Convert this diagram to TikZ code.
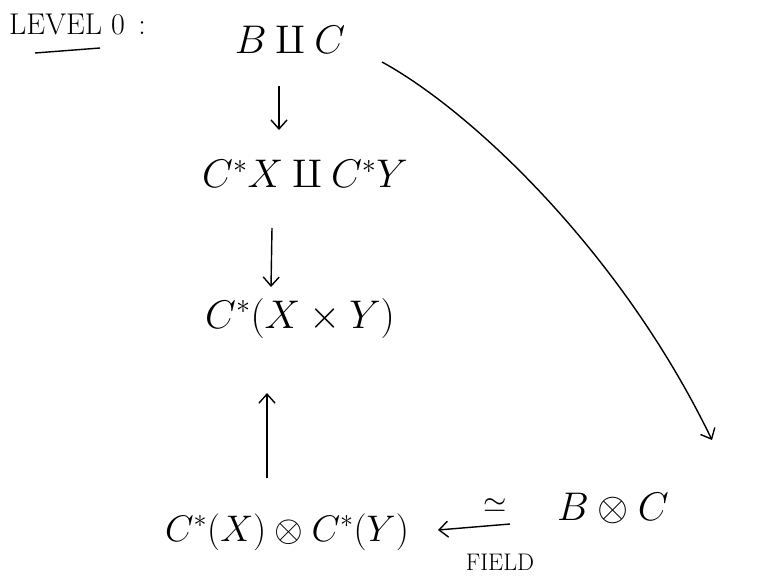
\RequirePackage{fix-cm}
\documentclass[tikz,border=0pt]{standalone}
\usepackage{amsmath}
\usetikzlibrary{arrows.meta}
\begin{document}
\begin{tikzpicture}[x=1pt,y=-1pt,
  lbl/.style={inner sep=1pt,font=\fontsize{40}{48}\selectfont},
  small/.style={inner sep=1pt,font=\fontsize{30}{34}\selectfont},
  arr/.style={line width=1.4pt,-{Straight Barb[length=9pt,width=16pt,line width=1.4pt]}}]
\useasboundingbox (0,0) rectangle (773,582);
\node[small,anchor=west] (lev) at (8,24) {$\mathrm{LEVEL\ 0\,:}$};
\draw[line width=1.4pt] (35,53) -- (100,48);
\node[lbl] (bc) at (290,40) {$B\amalg C$};
\node[lbl] (cxy) at (305,174) {$C^{*}X\amalg C^{*}Y$};
\node[lbl] (cprod) at (300,318) {$C^{*}(X\times Y)$};
\node[lbl,font=\fontsize{37}{44}\selectfont] (tens) at (287,532) {$C^{*}(X)\otimes C^{*}(Y)$};
\node[lbl] (btc) at (613,508) {$B\otimes C$};
\node[small] (iso) at (495,506) {$\simeq$};
\node[inner sep=1pt,font=\fontsize{24}{28}\selectfont] (field) at (500,562) {$\mathrm{FIELD}$};
\coordinate (a1s) at (279,86);
\coordinate (a1e) at (279,130);
\coordinate (a2s) at (272,228);
\coordinate (a2e) at (271,287);
\coordinate (a3s) at (267,478);
\coordinate (a3e) at (267,393);
\coordinate (a4s) at (510,524);
\coordinate (a4e) at (438,530);
\coordinate (cs) at (382,62);
\coordinate (ce) at (712,440);
\draw[arr] (a1s) -- (a1e);
\draw[arr] (a2s) -- (a2e);
\draw[arr] (a3s) -- (a3e);
\draw[arr] (a4s) -- (a4e);
\draw[arr] (cs) .. controls (470,110) and (620,250) .. (ce);
\end{tikzpicture}
\end{document}
